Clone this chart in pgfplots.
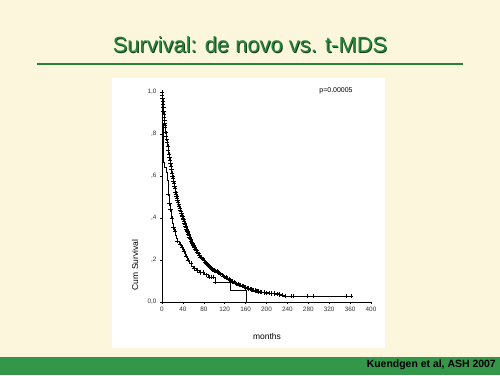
\documentclass[border=0pt]{standalone}
\usepackage{pgfplots}
\pgfplotsset{compat=1.18}
\usepackage{fontspec}
\setmainfont{Liberation Sans}
\definecolor{cream}{RGB}{252,246,221}
\definecolor{tgreen}{RGB}{36,132,58}
\definecolor{tshadow}{RGB}{20,60,28}
\definecolor{bargreen}{RGB}{52,150,72}
\definecolor{lgreen}{RGB}{40,130,55}
\begin{document}
\begin{tikzpicture}[x=1bp,y=1bp]
\fill[cream] (0,0) rectangle (500,375);
\useasboundingbox (0,0) rectangle (500,375);
\fill[white] (112,27) rectangle (385,297);
\fill[bargreen] (0,0) rectangle (500,18);
\draw[lgreen, line width=2bp] (37,311) -- (463,311);
\node[font=\fontsize{22}{24}\selectfont, text=tshadow] at (250.9,329.2) {Survival: de novo vs. t-MDS};
\node[font=\fontsize{22}{24}\selectfont, text=tgreen] at (250,330) {Survival: de novo vs. t-MDS};
\node[anchor=east, font=\bfseries\fontsize{10.5}{12}\selectfont, inner sep=0pt] at (496,10) {Kuendgen et al, ASH 2007};
\node[rotate=90, font=\fontsize{8.5}{10}\selectfont] at (135,110) {Cum Survival};
\node[font=\fontsize{8.5}{10}\selectfont] at (267,39) {months};
\node[font=\fontsize{7}{8}\selectfont] at (336,284) {p=0.00005};
\begin{axis}[at={(162bp,73bp)}, anchor=south west, scale only axis,
  width=209bp, height=210bp,
  axis x line*=bottom, axis y line*=left,
  xmin=0, xmax=400, ymin=0, ymax=1,
  xtick={0,40,...,400}, ytick={0,0.2,0.4,0.6,0.8,1},
  yticklabels={{0,0},{,2},{,4},{,6},{,8},{1,0}},
  tick align=outside, major tick length=2bp,
  tick label style={font=\fontsize{6.4}{7}\selectfont, text=black!80},
  /pgf/number format/assume math mode=true,
  axis line style={line width=0.6bp},
  tick style={line width=0.5bp, black},
  clip=false]
\addplot[const plot, black, line width=1.1bp, mark=+, mark size=2.2bp, mark options={line width=0.5bp}] coordinates {
(0,1.000) (0.5,0.985) (1,0.97) (1.5,0.955) (2,0.94) (2.5,0.925) (3,0.91) (3.5,0.895) (4,0.88) (4.5,0.865)
(5,0.85) (5.5,0.84) (6,0.83) (7,0.81) (8,0.79) (9,0.775) (10,0.76) (11,0.74) (12,0.725) (13,0.705)
(14,0.69) (15,0.675) (16,0.66) (17,0.645) (18,0.63) (19,0.615) (20,0.60) (21,0.59) (22,0.575) (23,0.565)
(24,0.55) (25,0.54) (26,0.525) (27,0.515) (28,0.505) (29,0.495) (30,0.485) (31,0.475) (32,0.465) (33,0.455)
(34,0.445) (35,0.437) (36,0.43) (37,0.422) (38,0.415) (39,0.407) (40,0.40) (41,0.392) (42,0.385) (43,0.377)
(44,0.37) (45,0.362) (46,0.355) (47,0.347) (48,0.34) (49,0.335) (50,0.33) (51,0.323) (52,0.316) (53,0.31)
(54,0.303) (55,0.297) (56,0.29) (57,0.285) (58,0.28) (59,0.275) (60,0.27) (61,0.265) (62,0.26) (64,0.252)
(66,0.245) (68,0.237) (70,0.23) (72,0.222) (74,0.215) (76,0.21) (78,0.205) (80,0.197) (82,0.19) (84,0.185)
(86,0.18) (88,0.175) (90,0.17) (92,0.166) (95,0.16) (97,0.155) (100,0.15) (102,0.148) (105,0.145) (108,0.141)
(110,0.138) (112,0.134) (115,0.13) (118,0.125) (120,0.12) (122,0.117) (125,0.113) (128,0.109) (130,0.105) (133,0.101)
(135,0.098) (138,0.094) (140,0.09) (143,0.087) (145,0.085) (148,0.082) (150,0.08) (153,0.077) (155,0.075) (158,0.072)
(160,0.07) (163,0.067) (165,0.065) (168,0.062) (170,0.06) (173,0.058) (175,0.056) (178,0.054) (180,0.053) (183,0.051)
(185,0.05) (188,0.048) (190,0.047) (195,0.045) (200,0.043) (205,0.042)
(210,0.041) (215,0.040) (220,0.038) (225,0.035) (230,0.032) (235,0.028) (248,0.028) (251,0.028) (278,0.028) (290,0.028)
(353,0.028) (362,0.028)
};
\addplot[const plot, black, line width=0.5bp] coordinates {
(0,1.0) (0.5,0.92) (1,0.85) (1.5,0.79) (2,0.74) (2.5,0.70) (3,0.665) (3.5,0.64) (9,0.62) (10,0.58)
(11,0.545) (12,0.515) (13,0.49) (14,0.47) (15,0.455) (16,0.44) (17,0.42) (18,0.40) (20,0.375) (22,0.355)
(24,0.335) (26,0.32) (28,0.305) (30,0.29) (33,0.275) (36,0.26) (40,0.24) (44,0.22) (48,0.20) (52,0.185)
(56,0.172) (60,0.16) (66,0.15) (72,0.14) (80,0.13) (88,0.12) (101,0.094) (130,0.057) (161,0.0)
};
\addplot[only marks, black, mark=+, mark size=2.2bp, mark options={line width=0.45bp}] coordinates {
(12,0.515) (14,0.47) (16,0.44) (19,0.40) (22,0.355) (25,0.335) (30,0.29) (34,0.275) (38,0.26) (42,0.24)
(46,0.22) (50,0.20) (55,0.185) (62,0.16) (68,0.15) (74,0.14) (78,0.14) (84,0.13) (90,0.12) (94,0.12) (98,0.12) (101,0.094)
};
\end{axis}
\end{tikzpicture}
\end{document}
